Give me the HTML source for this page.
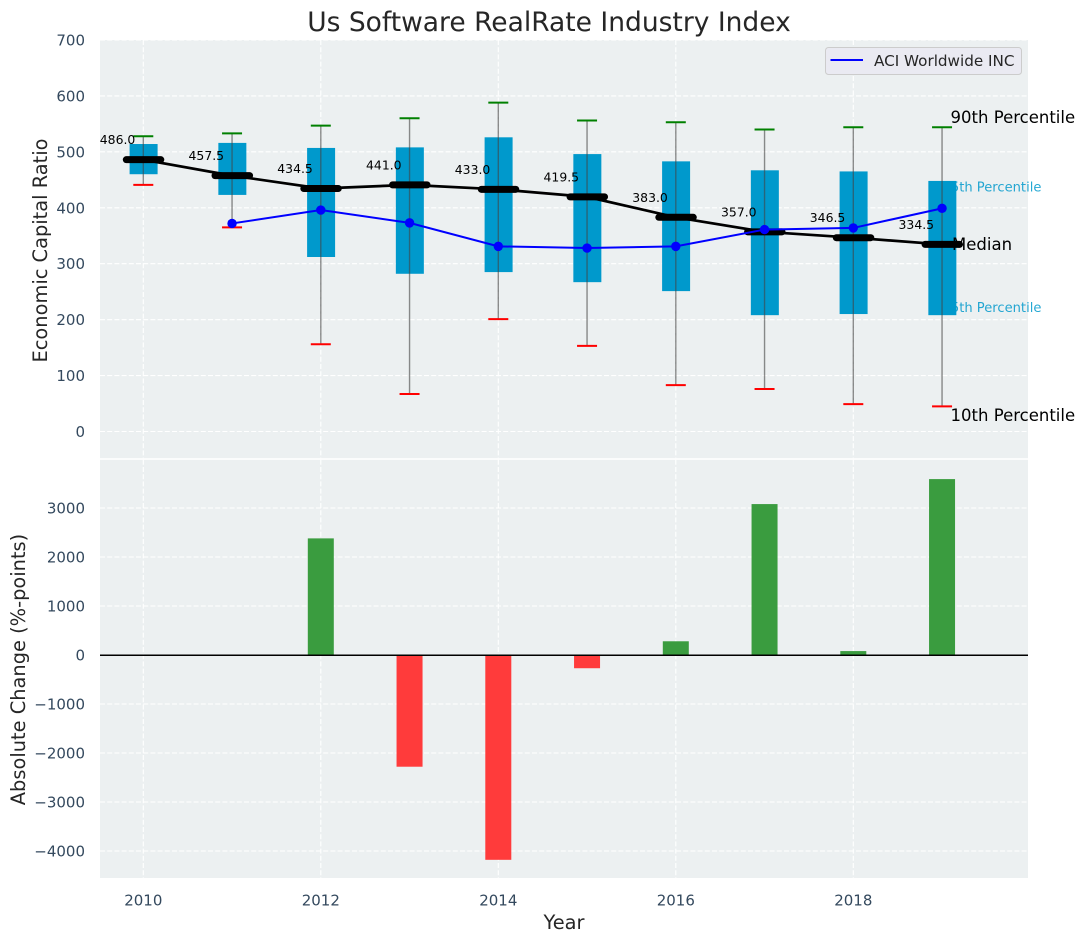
<!DOCTYPE html>
<html>
<head>
<meta charset="utf-8">
<title>Us Software RealRate Industry Index</title>
<style>
html,body{margin:0;padding:0;background:#fff;width:1085px;height:942px;overflow:hidden}
svg{display:block;font-family:"DejaVu Sans","Liberation Sans",sans-serif}
</style>
</head>
<body>
<svg id="chart" xmlns="http://www.w3.org/2000/svg" width="1085" height="942" viewBox="0 0 1085 942">
<text x="549" y="31" text-anchor="middle" font-size="26.5" fill="#262626">Us Software RealRate Industry Index</text>
<rect x="100" y="40" width="928" height="418.2" fill="#ecf0f1"/>
<rect x="100" y="459.8" width="928" height="418.2" fill="#ecf0f1"/>
<g id="grid"></g>
<g id="annotBelow"></g>
<g id="boxes"></g>
<g id="whiskers"></g>
<g id="medians"></g>
<g id="company"></g>
<g id="bars"></g>
<g id="ticks"></g>
<g id="annotAbove"></g>
<line x1="100" x2="1028" y1="655.2" y2="655.2" stroke="#000" stroke-width="1.5"/>
<text transform="translate(47,250.5) rotate(-90)" text-anchor="middle" font-size="19.4" fill="#262626">Economic Capital Ratio</text>
<text transform="translate(25,669.5) rotate(-90)" text-anchor="middle" font-size="19.4" fill="#262626">Absolute Change (%-points)</text>
<text x="564" y="929" text-anchor="middle" font-size="19.4" fill="#262626">Year</text>
<g>
<rect x="825.5" y="47.5" width="196" height="27" rx="3" fill="#eaeaf2" stroke="#cccccc" stroke-width="1"/>
<line x1="830.5" x2="863" y1="60" y2="60" stroke="#0000ff" stroke-width="2"/>
<text x="874" y="66" font-size="15.2" fill="#262626">ACI Worldwide INC</text>
</g>
</svg>
<script>
const years = [2010, 2011, 2012, 2013, 2014, 2015, 2016, 2017, 2018, 2019];
const p90 = [528, 533, 547, 560, 588, 556, 553, 540, 544, 544];
const p75 = [514, 516, 507, 508, 526, 496, 483, 467, 465, 448];
const medianValues = [486.0, 457.5, 434.5, 441.0, 433.0, 419.5, 383.0, 357.0, 346.5, 334.5];
const p25 = [460, 423, 312, 282, 285, 267, 251, 208, 210, 208];
const p10 = [441, 365, 156, 67, 201, 153, 83, 76, 49, 45];
const companyYears = [2011, 2012, 2013, 2014, 2015, 2016, 2017, 2018, 2019];
const companyValues = [372, 396, 373, 331, 328, 331, 361, 364, 399];
const changeYears = [2012, 2013, 2014, 2015, 2016, 2017, 2018, 2019];
const changeValues = [2380, -2280, -4180, -270, 280, 3080, 80, 3590];
const xTicks = [2010, 2012, 2014, 2016, 2018];
const topYTicks = [0, 100, 200, 300, 400, 500, 600, 700];
const bottomYTicks = [-4000, -3000, -2000, -1000, 0, 1000, 2000, 3000];

const NS = 'http://www.w3.org/2000/svg';
function xPos(year) { return 143.3 + (year - 2010) * 88.75; }
function yTop(v) { return 431.5 - v * 0.5593; }
function yBottom(v) { return 655 - v * 0.0490; }
function make(tag, parentId, attrs, content) {
  const el = document.createElementNS(NS, tag);
  for (const key in attrs) el.setAttribute(key, attrs[key]);
  if (content !== undefined) el.textContent = content;
  document.getElementById(parentId).appendChild(el);
  return el;
}
const dash = '5 2.2';
const gridColor = '#ffffff';

xTicks.forEach(function (t) {
  const g1 = make('line', 'grid', { x1: xPos(t), x2: xPos(t), y1: 40, y2: 458.2, stroke: gridColor, 'stroke-width': 1.1, 'stroke-dasharray': dash });
  
  
  const g2 = make('line', 'grid', { x1: xPos(t), x2: xPos(t), y1: 459.8, y2: 878, stroke: gridColor, 'stroke-width': 1.1, 'stroke-dasharray': dash });
  
  
  const lab = make('text', 'ticks', { x: xPos(t), y: 905.5, 'text-anchor': 'middle', 'font-size': 15, fill: '#34495e' }, String(t));
  
  
});
topYTicks.forEach(function (t) {
  const g = make('line', 'grid', { x1: 100, x2: 1028, y1: yTop(t), y2: yTop(t), stroke: gridColor, 'stroke-width': 1.1, 'stroke-dasharray': dash });
  
  
  const lab = make('text', 'ticks', { x: 85, y: yTop(t) + 5.5, 'text-anchor': 'end', 'font-size': 15, fill: '#34495e' }, String(t));
  
  
});
bottomYTicks.forEach(function (t) {
  const g = make('line', 'grid', { x1: 100, x2: 1028, y1: yBottom(t), y2: yBottom(t), stroke: gridColor, 'stroke-width': 1.1, 'stroke-dasharray': dash });
  
  
  const lab = make('text', 'ticks', { x: 85, y: yBottom(t) + 5.5, 'text-anchor': 'end', 'font-size': 15, fill: '#34495e' }, String(t).replace('-', '\u2212'));
  
  
});

const last = years.length - 1;
const lastX = xPos(years[last]);
const a75 = make('text', 'annotBelow', { x: lastX + 0.5, y: yTop(p75[last]) + 10.8, 'font-size': 13.1, fill: '#0099cc', opacity: 0.85 }, '75th Percentile');


const a25 = make('text', 'annotBelow', { x: lastX + 0.5, y: yTop(p25[last]) - 3.2, 'font-size': 13.1, fill: '#0099cc', opacity: 0.85 }, '25th Percentile');



years.forEach(function (yr, i) {
  const cx = xPos(yr);
  const box = make('rect', 'boxes', { x: cx - 13.7, y: yTop(p75[i]), width: 28, height: yTop(p25[i]) - yTop(p75[i]), fill: '#0099cc' });
  
  
  const w = make('line', 'whiskers', { x1: cx, x2: cx, y1: yTop(p90[i]), y2: yTop(p10[i]), stroke: '#444444', 'stroke-width': 1.4, opacity: 0.6 });
  
  
  const capHi = make('line', 'whiskers', { x1: cx - 10, x2: cx + 10, y1: yTop(p90[i]), y2: yTop(p90[i]), stroke: '#008000', 'stroke-width': 2 });
  
  
  const capLo = make('line', 'whiskers', { x1: cx - 10, x2: cx + 10, y1: yTop(p10[i]), y2: yTop(p10[i]), stroke: '#ff0000', 'stroke-width': 2 });
  
  
});

const medianLine = make('polyline', 'medians', { points: years.map(function (yr, i) { return xPos(yr) + ',' + yTop(medianValues[i]); }).join(' '), fill: 'none', stroke: '#000', 'stroke-width': 2.7 });


years.forEach(function (yr, i) {
  const cx = xPos(yr);
  const y = yTop(medianValues[i]);
  const seg = make('line', 'medians', { x1: cx - 17, x2: cx + 17.5, y1: y, y2: y, stroke: '#000', 'stroke-width': 7, 'stroke-linecap': 'round' });
  
  
  const t = make('text', 'medians', { x: cx - 43.5, y: y - 15.5, 'font-size': 12.4, fill: '#000' }, medianValues[i].toFixed(1));
  
  
});

const companyLine = make('polyline', 'company', { points: companyYears.map(function (yr, i) { return xPos(yr) + ',' + yTop(companyValues[i]); }).join(' '), fill: 'none', stroke: '#0000ff', 'stroke-width': 2 });


companyYears.forEach(function (yr, i) {
  const dot = make('circle', 'company', { cx: xPos(yr), cy: yTop(companyValues[i]), r: 4.7, fill: '#0000ff' });
  
  
});

changeYears.forEach(function (yr, i) {
  const v = changeValues[i];
  const y0 = yBottom(Math.max(v, 0));
  const y1 = yBottom(Math.min(v, 0));
  const bar = make('rect', 'bars', { x: xPos(yr) - 13, y: y0, width: 26, height: y1 - y0, fill: v >= 0 ? '#3a9c3f' : '#ff3b3b' });
  
  
});

const a90 = make('text', 'annotAbove', { x: lastX + 8.5, y: yTop(p90[last]) - 4, 'font-size': 16.5, fill: '#000' }, '90th Percentile');


const aMed = make('text', 'annotAbove', { x: lastX + 10, y: yTop(medianValues[last]) + 5.6, 'font-size': 16.5, fill: '#000' }, 'Median');


const a10 = make('text', 'annotAbove', { x: lastX + 8.5, y: yTop(p10[last]) + 14.5, 'font-size': 16.5, fill: '#000' }, '10th Percentile');


</script>
</body>
</html>
